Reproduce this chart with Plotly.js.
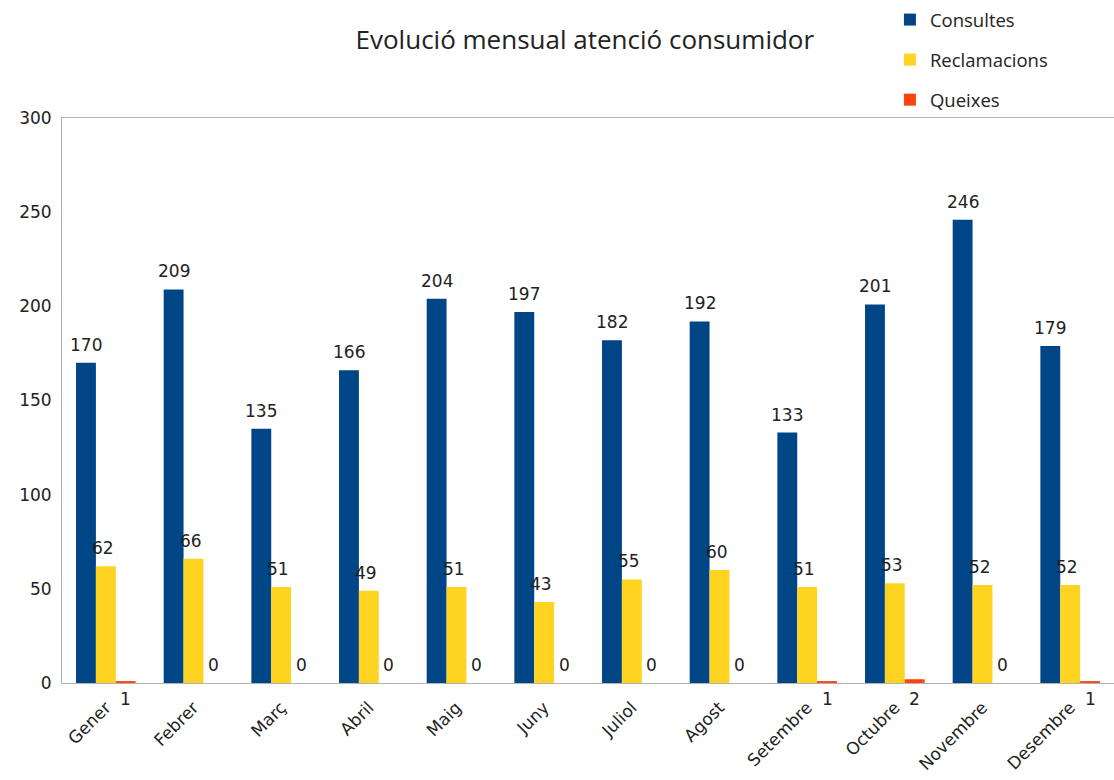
<!DOCTYPE html>
<html>
<head>
<meta charset="utf-8">
<script src="https://cdn.plot.ly/plotly-3.0.1.min.js"></script>
<style>html,body{margin:0;padding:0;background:#fff}#chart{width:1114px;height:780px}</style>
</head>
<body>
<div id="chart"></div>
<script>
const months = ["Gener","Febrer","Març","Abril","Maig","Juny","Juliol","Agost","Setembre","Octubre","Novembre","Desembre"];
const consultes = [170,209,135,166,204,197,182,192,133,201,246,179];
const reclamacions = [62,66,51,49,51,43,55,60,51,53,52,52];
const queixes = [1,0,0,0,0,0,0,0,1,2,0,1];
const yTicks = [0,50,100,150,200,250,300];

const labelFont = {family: "DejaVu Sans", size: 17, color: "#222"};

const traces = [
  {type:"bar", name:"Consultes", x:months, y:consultes, marker:{color:"#004586"}, legendgroup:"a"},
  {type:"bar", name:"Reclamacions", x:months, y:reclamacions, marker:{color:"#ffd320"}, legendgroup:"b"},
  {type:"bar", name:"Queixes", x:months, y:queixes, marker:{color:"#ff420e"}, legendgroup:"c"}
];

const annotations = [];
months.forEach((m,i)=>{
  annotations.push({x:m, y:consultes[i], xref:"x", yref:"y", text:String(consultes[i]), showarrow:false,
    xshift:-20, yanchor:"bottom", yshift:6, font:labelFont});
  annotations.push({x:m, y:reclamacions[i], xref:"x", yref:"y", text:String(reclamacions[i]), showarrow:false,
    xshift:-3, yanchor:"bottom", yshift:6, font:labelFont});
  annotations.push({x:m, y:0, xref:"x", yref:"y", text:String(queixes[i]), showarrow:false,
    xshift:20, yshift: queixes[i]===0 ? 18 : -16, font:labelFont});
});

const layout = {
  width:1114, height:780,
  margin:{l:62, r:0, t:118, b:97},
  paper_bgcolor:"#fff", plot_bgcolor:"#fff",
  title:{text:"Evolució mensual atenció consumidor", x:0.525, xanchor:"center", y:0.949, yanchor:"middle",
         font:{family:"Open Sans", size:26, color:"#222"}},
  barmode:"group", bargap:0.32, bargroupgap:0,
  showlegend:true,
  legend:{x:0.787, y:1.207, xanchor:"left", yanchor:"top", font:{family:"Open Sans", size:18.5, color:"#222"},
          tracegroupgap:13, bgcolor:"rgba(0,0,0,0)"},
  xaxis:{type:"category", tickangle:-45, showline:true, mirror:true, linecolor:"#b3b3b3", linewidth:1,
         ticks:"", showgrid:false, ticklabelstandoff:7, tickfont:{family:"DejaVu Sans", size:17, color:"#222"}, fixedrange:true},
  yaxis:{range:[0,300], tickvals:yTicks, ticktext:yTicks.map(String), showline:true, linecolor:"#b3b3b3", linewidth:1,
         showgrid:false, zeroline:false, ticks:"", ticklen:0, ticklabelstandoff:6,
         tickfont:{family:"DejaVu Sans", size:17, color:"#222"}, fixedrange:true},
  annotations:annotations
};

Plotly.newPlot("chart", traces, layout, {displayModeBar:false, staticPlot:true});
</script>
</body>
</html>
